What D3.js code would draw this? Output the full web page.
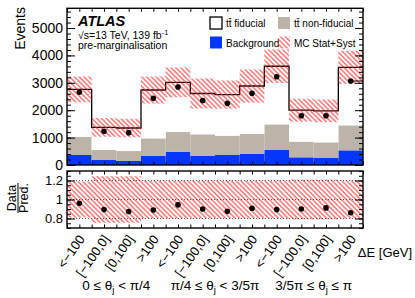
<!DOCTYPE html>
<html>
<head>
<meta charset="utf-8">
<script src="https://cdn.jsdelivr.net/npm/d3@7"></script>
<style>
  body { margin: 0; background: #fff; }
  svg text { font-family: "Liberation Sans", Arial, Helvetica, sans-serif; fill: #000; }
</style>
</head>
<body>
<svg id="chart" width="415" height="298"></svg>
<script>
// bin labels (Delta E) and theta_j groups
const categories = ['<\u2212100', '[\u2212100,0]', '[0,100]', '>100',
                    '<\u2212100', '[\u2212100,0]', '[0,100]', '>100',
                    '<\u2212100', '[\u2212100,0]', '[0,100]', '>100']
const groupLabels = [
  ['0 \u2264 \u03b8', 'j', ' < \u03c0/4'],
  ['\u03c0/4 \u2264 \u03b8', 'j', ' < 3/5\u03c0'],
  ['3/5\u03c0 \u2264 \u03b8', 'j', ' \u2264 \u03c0']
]

// stacked predictions (events)
const background  = [365, 182, 146, 328, 487, 341, 365, 414, 547, 280, 255, 535]
const nonFiducial = [668, 365, 364, 645, 717, 779, 705, 717, 937, 572, 572, 913]
const fiducial    = [1727, 828, 840, 1764, 1813, 1490, 1500, 1752, 2121, 1148, 1148, 2117]
const observed    = [2653, 1230, 1180, 2433, 2847, 2350, 2250, 2617, 3222, 1800, 1800, 3066]

// relative MC stat+syst uncertainty (main panel / ratio panel)
const mcUnc      = [0.17, 0.25, 0.25, 0.18, 0.18, 0.21, 0.20, 0.21, 0.17, 0.21, 0.21, 0.17]
const mcUncRatio = [0.19, 0.245, 0.245, 0.20, 0.20, 0.20, 0.20, 0.20, 0.20, 0.21, 0.21, 0.20]

const mainTicks = [0, 1000, 2000, 3000, 4000, 5000]
const ratioTicks = [0.8, 1, 1.2]

const left = 67, right = 363
const mainTop = 8.3, mainBottom = 165
const ratioTop = 171, ratioBottom = 228

const rows = categories.map((c, i) => ({
  i,
  background: background[i],
  nonFiducial: nonFiducial[i],
  fiducial: fiducial[i]
}))
const total = rows.map(d => d.background + d.nonFiducial + d.fiducial)

const x = d3.scaleLinear().domain([0, categories.length]).range([left, right])
const y = d3.scaleLinear().domain([0, 5720]).range([mainBottom, mainTop])
const yr = d3.scaleLinear().domain([0.7, 1.3]).range([ratioBottom, ratioTop])

const svg = d3.select('#chart')

const defs = svg.append('defs')
defs.append('pattern')
  .attr('id', 'hatch')
  .attr('patternUnits', 'userSpaceOnUse')
  .attr('width', 3.4)
  .attr('height', 3.4)
  .attr('patternTransform', 'rotate(-45)')
  .append('line')
  .attr('x1', 1.7).attr('y1', -1)
  .attr('x2', 1.7).attr('y2', 5)
  .attr('stroke', '#ff2020')
  .attr('stroke-opacity', 0.72)
  .attr('stroke-width', 1.3)

defs.append('clipPath').attr('id', 'clipRatio')
  .append('rect')
  .attr('x', left).attr('y', ratioTop)
  .attr('width', right - left).attr('height', ratioBottom - ratioTop)

// ---- main panel ----
const colors = { background: '#0536fa', nonFiducial: '#bdb4a9', fiducial: '#ffffff' }
const stack = d3.stack().keys(['background', 'nonFiducial', 'fiducial'])(rows)

svg.append('g')
  .selectAll('g')
  .data(stack)
  .join('g')
  .attr('fill', d => colors[d.key])
  .selectAll('rect')
  .data(d => d)
  .join('rect')
  .attr('x', d => x(d.data.i))
  .attr('width', x(1) - x(0))
  .attr('y', d => y(d[1]))
  .attr('height', d => y(d[0]) - y(d[1]))

const stepPts = total.flatMap((t, i) => [[x(i), y(t)], [x(i + 1), y(t)]])
svg.append('path')
  .attr('d', d3.line()(stepPts))
  .attr('fill', 'none')
  .attr('stroke', '#000')
  .attr('stroke-width', 1.3)

svg.append('g')
  .selectAll('rect')
  .data(total)
  .join('rect')
  .attr('x', (d, i) => x(i))
  .attr('width', x(1) - x(0))
  .attr('y', (d, i) => y(d * (1 + mcUnc[i])))
  .attr('height', (d, i) => y(d * (1 - mcUnc[i])) - y(d * (1 + mcUnc[i])))
  .attr('fill', 'url(#hatch)')

svg.append('g')
  .selectAll('circle')
  .data(observed)
  .join('circle')
  .attr('cx', (d, i) => x(i + 0.5))
  .attr('cy', d => y(d))
  .attr('r', 2.8)
  .attr('fill', '#000')

// horizontal marker line seen on the last point
const last = observed.length - 1
svg.append('line')
  .attr('x1', x(last + 0.5)).attr('x2', x(last + 1))
  .attr('y1', y(observed[last])).attr('y2', y(observed[last]))
  .attr('stroke', '#000').attr('stroke-width', 1)

// ---- ratio panel ----
const gR = svg.append('g').attr('clip-path', 'url(#clipRatio)')
gR.selectAll('rect')
  .data(mcUncRatio)
  .join('rect')
  .attr('x', (d, i) => x(i))
  .attr('width', x(1) - x(0))
  .attr('y', d => yr(1 + d))
  .attr('height', d => yr(1 - d) - yr(1 + d))
  .attr('fill', 'url(#hatch)')

gR.selectAll('line.grid')
  .data(ratioTicks)
  .join('line')
  .attr('class', 'grid')
  .attr('x1', left).attr('x2', right)
  .attr('y1', d => yr(d)).attr('y2', d => yr(d))
  .attr('stroke', '#333')
  .attr('stroke-width', 0.8)
  .attr('stroke-dasharray', '1,2')

gR.selectAll('circle')
  .data(observed)
  .join('circle')
  .attr('cx', (d, i) => x(i + 0.5))
  .attr('cy', (d, i) => yr(d / total[i]))
  .attr('r', 2.8)
  .attr('fill', '#000')

// ---- axes ----
const styleAxis = g => {
  g.select('.domain').remove()
  g.selectAll('.tick line').attr('stroke', '#000')
  g.selectAll('.tick text')
    .attr('font-family', '"Liberation Sans", Arial, sans-serif')
    .attr('fill', '#000')
}

const halfBins = d3.range(0, categories.length + 0.01, 0.5)
;[mainTop, ratioTop].forEach(t => {
  svg.append('g').attr('transform', `translate(0,${t})`)
    .call(d3.axisBottom(x).tickValues(halfBins).tickSize(3.5).tickFormat(''))
    .call(styleAxis)
})
;[mainBottom, ratioBottom].forEach(b => {
  svg.append('g').attr('transform', `translate(0,${b})`)
    .call(d3.axisTop(x).tickValues(halfBins).tickSize(3.5).tickFormat(''))
    .call(styleAxis)
})

const minorMain = d3.range(0, 5720, 200)
svg.append('g').attr('transform', `translate(${left},0)`)
  .call(d3.axisLeft(y).tickValues(minorMain).tickSize(-4).tickFormat(''))
  .call(styleAxis)
svg.append('g').attr('transform', `translate(${left},0)`)
  .call(d3.axisLeft(y).tickValues(mainTicks).tickSize(-8).tickPadding(4).tickFormat(d3.format('d')))
  .call(styleAxis)
  .call(g => g.selectAll('.tick text').attr('font-size', 14))
svg.append('g').attr('transform', `translate(${right},0)`)
  .call(d3.axisRight(y).tickValues(minorMain).tickSize(-4).tickFormat(''))
  .call(styleAxis)
svg.append('g').attr('transform', `translate(${right},0)`)
  .call(d3.axisRight(y).tickValues(mainTicks).tickSize(-8).tickFormat(''))
  .call(styleAxis)

const minorRatio = d3.range(0.7, 1.301, 0.05)
svg.append('g').attr('transform', `translate(${left},0)`)
  .call(d3.axisLeft(yr).tickValues(minorRatio).tickSize(-4).tickFormat(''))
  .call(styleAxis)
svg.append('g').attr('transform', `translate(${left},0)`)
  .call(d3.axisLeft(yr).tickValues(ratioTicks).tickSize(-8).tickPadding(4).tickFormat(d3.format('')))
  .call(styleAxis)
  .call(g => g.selectAll('.tick text').attr('font-size', 13))
svg.append('g').attr('transform', `translate(${right},0)`)
  .call(d3.axisRight(yr).tickValues(minorRatio).tickSize(-4).tickFormat(''))
  .call(styleAxis)
svg.append('g').attr('transform', `translate(${right},0)`)
  .call(d3.axisRight(yr).tickValues(ratioTicks).tickSize(-8).tickFormat(''))
  .call(styleAxis)

// frames
;[[mainTop, mainBottom], [ratioTop, ratioBottom]].forEach(([t, b]) => {
  svg.append('rect')
    .attr('x', left).attr('y', t)
    .attr('width', right - left).attr('height', b - t)
    .attr('fill', 'none').attr('stroke', '#000').attr('stroke-width', 1.4)
})

// x bin labels
svg.append('g')
  .selectAll('text')
  .data(categories)
  .join('text')
  .attr('transform', (d, i) => `translate(${x(i + 0.5) + 6},${ratioBottom + 11}) rotate(-55)`)
  .attr('text-anchor', 'end')
  .attr('font-size', 13)
  .text(d => d)

svg.append('text')
  .attr('x', 412).attr('y', 257)
  .attr('text-anchor', 'end')
  .attr('font-size', 13)
  .text('\u0394E [GeV]')

groupLabels.forEach((parts, k) => {
  const t = svg.append('text')
    .attr('x', x(k * 4 + 2)).attr('y', 290)
    .attr('text-anchor', 'middle')
    .attr('font-size', 13.5)
  t.append('tspan').text(parts[0])
  t.append('tspan').attr('dy', 3).attr('font-size', 9.5).text(parts[1])
  t.append('tspan').attr('dy', -3).text(parts[2])
})

// y titles
svg.append('text')
  .attr('transform', `translate(25,7) rotate(-90)`)
  .attr('text-anchor', 'end')
  .attr('font-size', 14)
  .text('Events')

const frac = svg.append('g').attr('transform', `translate(18,198) rotate(-90)`)
frac.append('text').attr('y', -2).attr('text-anchor', 'middle').attr('font-size', 12.5).text('Data')
frac.append('line').attr('x1', -15).attr('x2', 15).attr('stroke', '#000').attr('stroke-width', 1)
frac.append('text').attr('y', 10).attr('text-anchor', 'middle').attr('font-size', 12.5).text('Pred.')

// ATLAS label
svg.append('text')
  .attr('x', 78).attr('y', 26)
  .attr('font-size', 14.5).attr('font-weight', 'bold').attr('font-style', 'italic')
  .text('ATLAS')
const lumi = svg.append('text').attr('x', 78).attr('y', 38.5).attr('font-size', 10.5)
lumi.append('tspan').text('\u221as=13 TeV, 139 fb')
lumi.append('tspan').attr('dy', -4).attr('font-size', 7.5).text('-1')
svg.append('text').attr('x', 78).attr('y', 49).attr('font-size', 10.5).text('pre-marginalisation')

// legend
const legendItems = [
  { label: 't\u0074\u0304 fiducial', fill: '#ffffff', stroke: '#000', x: 210, y: 17 },
  { label: 't\u0074\u0304 non-fiducial', fill: colors.nonFiducial, stroke: 'none', x: 278, y: 17 },
  { label: 'Background', fill: colors.background, stroke: 'none', x: 210, y: 36.5 },
  { label: 'MC Stat+Syst', fill: 'url(#hatch)', stroke: 'none', x: 278, y: 36.5 }
]
const lg = svg.append('g')
  .selectAll('g')
  .data(legendItems)
  .join('g')
  .attr('transform', d => `translate(${d.x},${d.y})`)
lg.append('rect')
  .attr('width', 12).attr('height', 12)
  .attr('fill', d => d.fill)
  .attr('stroke', d => d.stroke)
  .attr('stroke-width', 1.3)
lg.append('text')
  .attr('x', 16).attr('y', 10)
  .attr('font-size', 10)
  .text(d => d.label)
</script>
</body>
</html>
